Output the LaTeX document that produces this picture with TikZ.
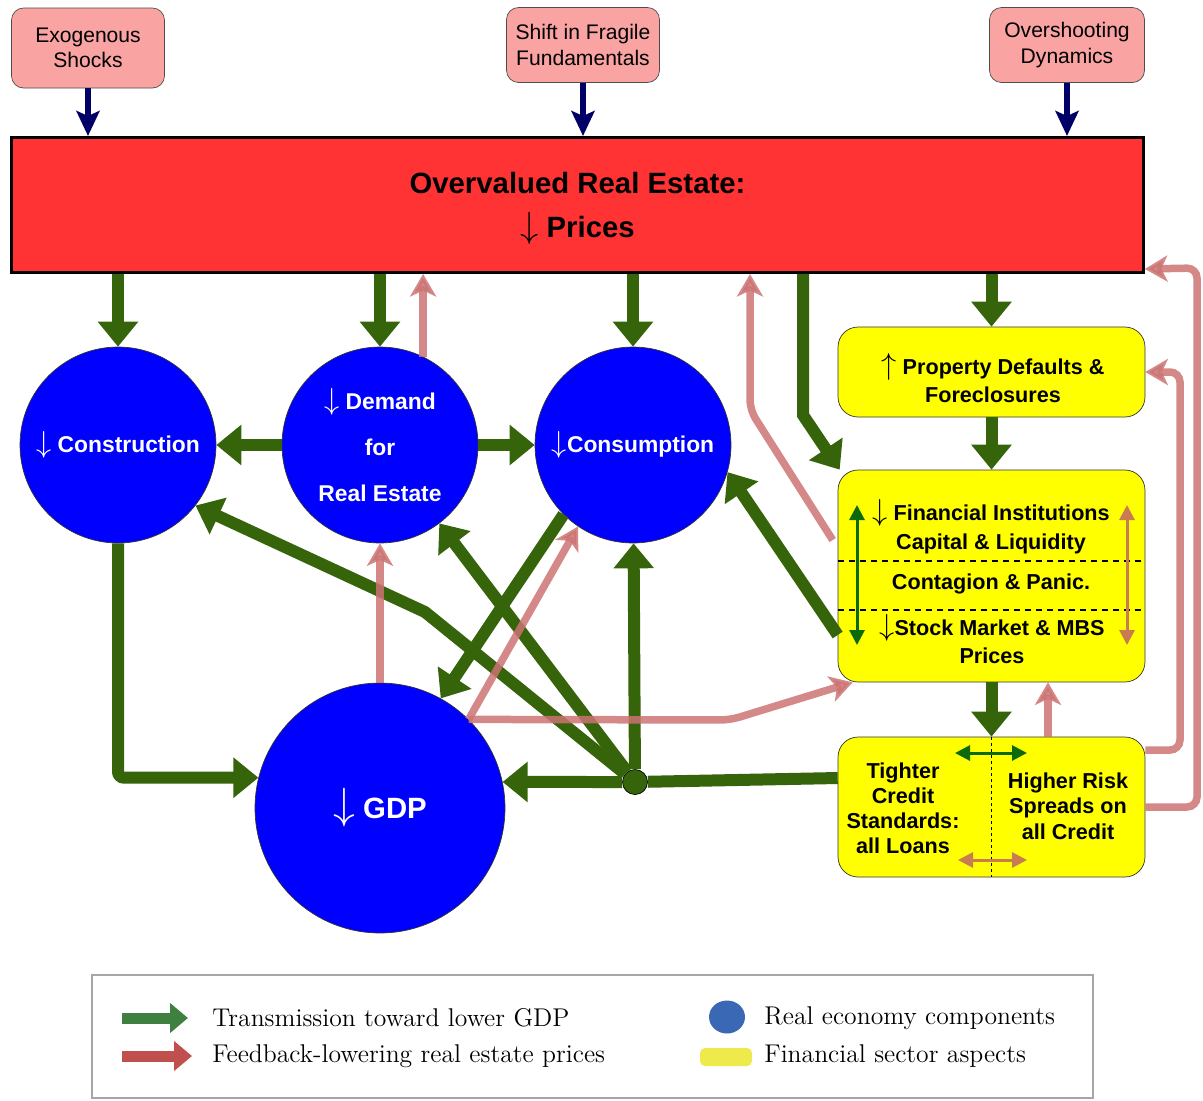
\documentclass[tikz,border=0pt]{standalone}
\usepackage{fontspec}
\setsansfont{Liberation Sans}
\usetikzlibrary{arrows.meta}

\definecolor{boxred}{HTML}{FF3333}
\definecolor{boxpink}{HTML}{F9A3A3}
\definecolor{darknavy}{HTML}{000066}
\definecolor{circblue}{HTML}{0000FF}
\definecolor{transgreen}{HTML}{36640A}
\definecolor{feedred}{HTML}{CC7373}
\definecolor{boxyellow}{HTML}{FFFF00}
\definecolor{brownarr}{HTML}{C97B52}
\definecolor{darkgr}{HTML}{0B6B0B}
\definecolor{leggreen}{HTML}{3F7F3F}
\definecolor{legred}{HTML}{C0504D}
\definecolor{legblue}{HTML}{3A68B4}
\definecolor{legyellow}{HTML}{EFEA4C}

% 细长的上下箭头
\newcommand{\dnarrow}[1]{{\fontsize{#1}{#1}\selectfont$\downarrow$}}
\newcommand{\uparrowtall}[1]{{\fontsize{#1}{#1}\selectfont$\uparrow$}}

\tikzset{
    shockbox/.style={draw=black!70, fill=boxpink, rounded corners=0.24cm,
        minimum width=3.06cm, minimum height=1.5cm, align=center,
        font=\sffamily\fontsize{12}{14.5}\selectfont},
    realcirc/.style={circle, draw=black!80, fill=circblue, text=white, align=center,
        inner sep=0pt, minimum size=3.92cm,
        font=\sffamily\bfseries\fontsize{13}{26}\selectfont},
    finbox/.style={draw=black!80, fill=boxyellow, rounded corners=0.4cm,
        minimum width=6.14cm, align=center,
        font=\sffamily\bfseries\fontsize{12.3}{16.4}\selectfont},
    fintext/.style={align=center, inner sep=0pt,
        font=\sffamily\bfseries\fontsize{12.3}{16.4}\selectfont},
    trans/.style={draw=transgreen, line width=0.24cm,
        -{Triangle[length=0.5cm,width=0.78cm]}},
    feed/.style={draw=feedred, line width=0.15cm, opacity=0.85, rounded corners=0.2cm,
        -{Stealth[length=0.45cm,width=0.52cm,inset=0.12cm]}},
    shock/.style={draw=darknavy, line width=0.13cm,
        -{Stealth[length=0.5cm,width=0.46cm,inset=0.1cm]}},
    inarrow/.style={line width=0.06cm,
        {Triangle[length=0.3cm,width=0.3cm]}-{Triangle[length=0.3cm,width=0.3cm]}},
    legtext/.style={anchor=west, inner sep=0pt, font=\rmfamily\fontsize{14.6}{17}\selectfont},
}

\begin{document}
\begin{tikzpicture}[x=0.02cm, y=-0.02cm]
    \useasboundingbox (0,0) rectangle (1203,1100);

    % 顶部的三个冲击框
    \node[shockbox, minimum height=1.6cm] (exo) at (88,48) {Exogenous\\Shocks};
    \node[shockbox] (fragile) at (583,45) {Shift in Fragile\\Fundamentals};
    \node[shockbox, minimum width=3.1cm] (overshoot) at (1067,45) {Overshooting\\Dynamics};

    \node[draw=black, line width=0.06cm, fill=boxred, minimum width=22.64cm,
          minimum height=2.7cm] (overval) at (577.5,205) {};
    \node[align=center, inner sep=0pt, font=\sffamily\bfseries\fontsize{16.7}{25}\selectfont]
          (overtext) at (577.5,208) {Overvalued Real Estate:\\\dnarrow{20} Prices};

    \draw[shock] (exo) -- (overval.north -| exo);
    \draw[shock] (fragile) -- (overval.north -| fragile);
    \draw[shock] (overshoot) -- (overval.north -| overshoot);

    % 实体经济
    \node[realcirc] (constr) at (118,445) {\dnarrow{18} Construction};
    \node[realcirc] (demand) at (380,445) {\dnarrow{18} Demand\\for\\Real Estate};
    \node[realcirc] (cons) at (633,445) {\dnarrow{18}Consumption};
    \node[realcirc, minimum size=5cm, font=\sffamily\bfseries\fontsize{16.7}{20}\selectfont]
          (gdp) at (380,808) {\dnarrow{23} GDP};

    % 金融部门
    \node[finbox, minimum height=1.8cm] (prop) at (991.5,372) {};
    \node[fintext] (proptext) at (993,378) {\uparrowtall{17} Property Defaults \&\\Foreclosures};
    \node[finbox, minimum height=4.24cm] (fin) at (991.5,576) {};
    \node[fintext] (fincap) at (991,527) {\dnarrow{17} Financial Institutions\\Capital \& Liquidity};
    \node[fintext] (panic) at (991,584) {Contagion \& Panic.};
    \node[fintext] (stock) at (992,639) {\dnarrow{17}Stock Market \& MBS\\Prices};
    \draw[line width=0.04cm, dash pattern=on 0.12cm off 0.1cm] (fin.west |- panic.north) ++(0,-13) coordinate (dashA) -- (fin.east |- dashA);
    \draw[line width=0.04cm, dash pattern=on 0.12cm off 0.1cm] (fin.west |- panic.south) ++(0,16) coordinate (dashB) -- (fin.east |- dashB);
    \draw[inarrow, darkgr] (857,505) -- (857,645);
    \draw[inarrow, brownarr] (1127,505) -- (1127,645);

    \node[finbox, minimum height=2.8cm] (credit) at (991.5,807) {};
    \draw[line width=0.02cm, dash pattern=on 0.06cm off 0.06cm] (credit.north) -- (credit.south);
    \node[fintext, font=\sffamily\bfseries\fontsize{12.3}{14.2}\selectfont]
          (tighter) at (903,808) {Tighter\\Credit\\Standards:\\all Loans};
    \node[fintext, font=\sffamily\bfseries\fontsize{12.3}{14.5}\selectfont]
          (spread) at (1068,806) {Higher Risk\\Spreads on\\all Credit};
    \draw[inarrow, darkgr] (955,753) -- (1027,753);
    \draw[inarrow, brownarr] (958,860) -- (1027,860);

    \node[circle, draw=black, fill=transgreen, minimum size=0.5cm, inner sep=0pt] (hub) at (635,782) {};

    % 拐点
    \coordinate (finbend) at (803,415);
    \coordinate (hubbend) at (425,612);
    \coordinate (gdpbend) at (730,720);
    \coordinate (fbbend) at (750,410);
    \coordinate (propturn) at (1180,372);
    \coordinate (topturn) at (1197,268);

    % 传导 (绿色)
    \draw[trans] (overval.south -| constr) -- (constr);
    \draw[trans] (overval.south -| demand) -- (demand);
    \draw[trans] (overval.south -| cons) -- (cons);
    \draw[trans] (overval.south -| prop) -- (prop);
    \draw[trans] (overval.south -| finbend) -- (finbend) -- ([xshift=0.04cm]fin.north west);
    \draw[trans] (prop) -- (fin);
    \draw[trans] (fin) -- (credit);
    \draw[trans] (demand) -- (constr);
    \draw[trans] (demand) -- (cons);
    \draw[trans, rounded corners=0.12cm] (constr.south) |- (gdp.166);
    \draw[trans] (cons.225) -- (gdp.61);
    \draw[trans] ([yshift=-1.18cm]fin.west) -- (cons.-16);
    \draw[draw=transgreen, line width=0.24cm] ([yshift=0.58cm]credit.west) -- (hub);
    \draw[trans] (hub) -- (gdp.12);
    \draw[trans] (hub) -- (cons);
    \draw[trans] (hub) -- (demand);
    \draw[trans] (hub) -- (hubbend) -- (constr.-38);

    % 反馈 (红色)
    \draw[feed] (demand.64) -- (overval.south -| demand.64);
    \draw[feed] (gdp) -- (demand);
    \draw[feed] (gdp.45) -- (cons.236);
    \draw[feed] (gdp.45) -- (gdpbend) -- ([xshift=0.3cm]fin.south west);
    \draw[feed] ([shift={(-0.1cm,0.72cm)}]fin.west) -- (fbbend) -- (overval.south -| fbbend);
    \draw[feed] (credit.north -| 1048,0) -- (fin.south -| 1048,0);
    \draw[feed] ([yshift=1.14cm]credit.east) -| (propturn) -- (prop.east);
    \draw[feed] (credit.east) -| (topturn) -- ([yshift=0.1cm]overval.south east);

    % 图例
    \draw[draw=gray!70, line width=0.04cm] (92,975) rectangle (1093,1098);
    \draw[leggreen, line width=0.22cm, -{Triangle[length=0.36cm,width=0.58cm]}] (122,1018) -- (188,1018);
    \draw[legred, line width=0.22cm, -{Triangle[length=0.36cm,width=0.58cm]}] (122,1056) -- (192,1056);
    \fill[legblue] (727,1017) ellipse [x radius=0.36cm, y radius=0.33cm];
    \fill[legyellow, rounded corners=0.1cm] (700,1048) rectangle (752,1066);
    \node[legtext] (legtrans) at (212,1018) {Transmission toward lower GDP};
    \node[legtext] (legfeed) at (212,1056) {Feedback-lowering real estate prices};
    \node[legtext] (legreal) at (764,1018) {Real economy components};
    \node[legtext] (legfin) at (764,1056) {Financial sector aspects};
\end{tikzpicture}
\end{document}
